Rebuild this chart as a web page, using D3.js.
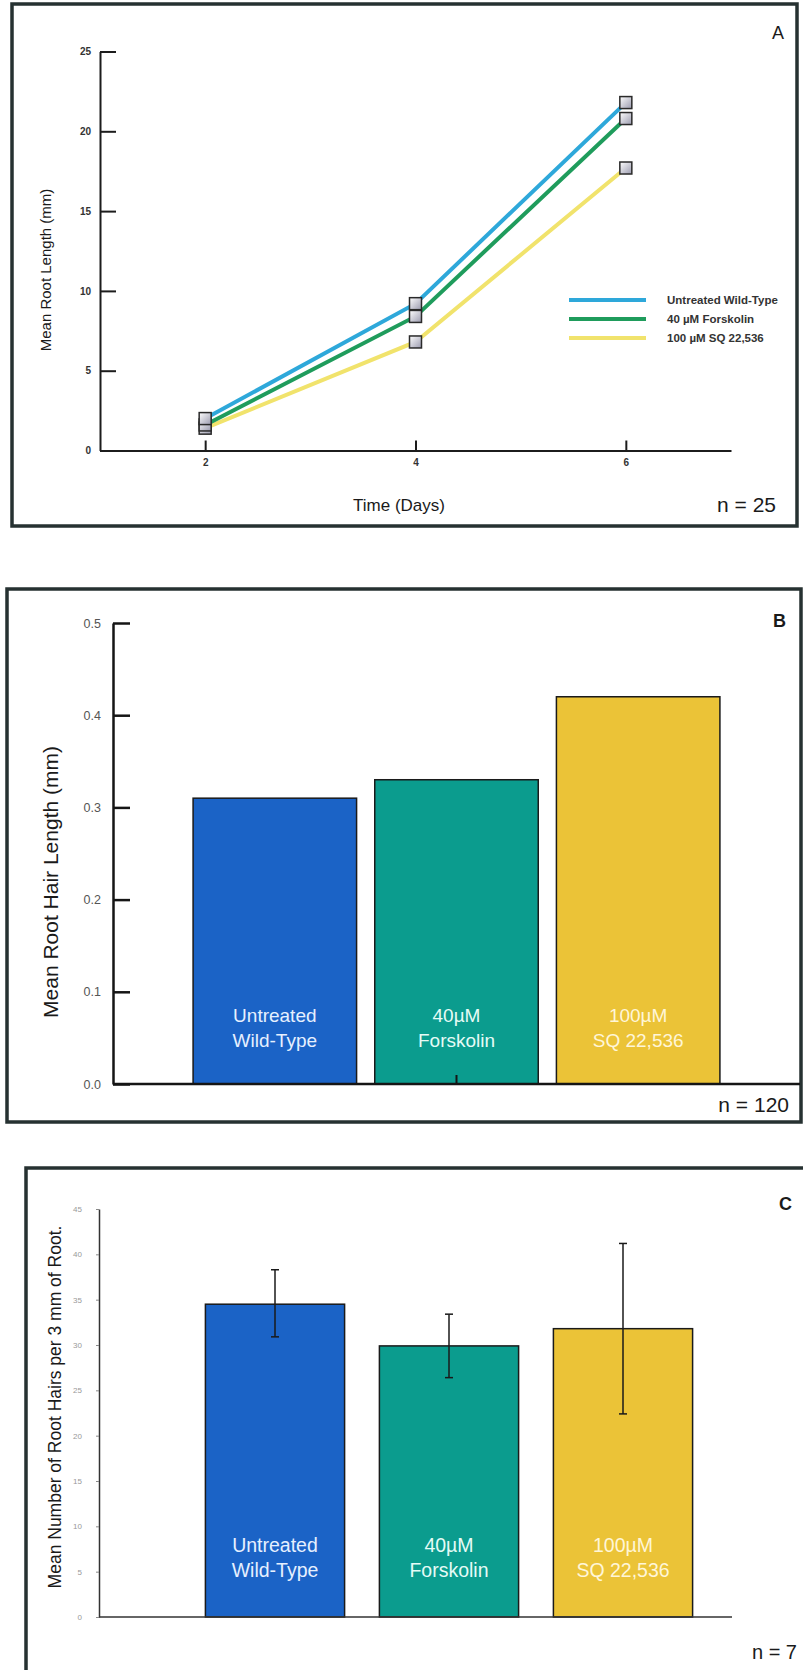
<!DOCTYPE html>
<html>
<head>
<meta charset="utf-8">
<script src="https://cdn.jsdelivr.net/npm/d3@7"></script>
<style>
  body { margin: 0; background: #fff; }
  svg { display: block; font-family: "Liberation Sans", Arial, sans-serif; }
</style>
</head>
<body>
<svg id="chart" width="803" height="1670"></svg>
<script>
// ---> Data
// panel A: root length over time
const days = [2, 4, 6];
const untreatedLength = [2.0, 9.2, 21.8];
const forskolinLength = [1.6, 8.4, 20.8];
const sqLength = [1.4, 6.8, 17.7];
const seriesNames = ["Untreated Wild-Type", "40 µM Forskolin", "100 µM SQ 22,536"];
const lengthTicks = [0, 5, 10, 15, 20, 25];

// panel B + C: the three treatments
const treatments = ["Untreated Wild-Type", "40µM Forskolin", "100µM SQ 22,536"];
const treatmentLines = [["Untreated", "Wild-Type"], ["40µM", "Forskolin"], ["100µM", "SQ 22,536"]];
const hairLength = [0.31, 0.33, 0.42];
const hairLengthTicks = [0, 0.1, 0.2, 0.3, 0.4, 0.5];

const hairCount = [34.5, 29.9, 31.8];
const hairCountLow = [30.9, 26.4, 22.4];
const hairCountHigh = [38.3, 33.4, 41.2];
const hairCountTicks = [0, 5, 10, 15, 20, 25, 30, 35, 40, 45];

// ---> Styles
const lineColors = ["#2ea8da", "#1f9c5c", "#f1e36c"];
const barColors = ["#1b63c6", "#0b9c8e", "#ebc337"];
const barTextColors = ["#e6f0ff", "#e6fbf6", "#fff6d8"];
const frameColor = "#263131";

const svg = d3.select("#chart");
svg.append("rect").attr("width", 803).attr("height", 1670).attr("fill", "#fff");

drawPanelA();
drawPanelB();
drawPanelC();

function frame(x, y, w, h) {
    svg.append("rect")
        .attr("x", x).attr("y", y)
        .attr("width", w).attr("height", h)
        .attr("fill", "none")
        .attr("stroke", frameColor)
        .attr("stroke-width", 3.5);
}

function cornerText(x, y, txt, size, weight) {
    svg.append("text")
        .attr("x", x).attr("y", y)
        .attr("text-anchor", "end")
        .attr("font-size", size)
        .attr("font-weight", weight || "normal")
        .attr("fill", "#1a1a1a")
        .text(txt);
}

// ---> Panel A
function drawPanelA() {
    frame(12, 4, 785, 522);

    const x = d3.scaleLinear().domain([1, 7]).range([100, 731]);
    const y = d3.scaleLinear().domain([0, 25]).range([450.5, 51.5]);

    const g = svg.append("g");

    const yAxis = g.append("g")
        .attr("transform", "translate(100,0)")
        .call(d3.axisLeft(y).tickValues(lengthTicks).tickSizeInner(-16).tickSizeOuter(0).tickPadding(9));
    const xAxis = g.append("g")
        .attr("transform", "translate(0," + y(0) + ")")
        .call(d3.axisBottom(x).tickValues(days).tickFormat(d3.format("d"))
            .tickSizeInner(-10).tickSizeOuter(0).tickPadding(8));

    [yAxis, xAxis].forEach(a => {
        a.selectAll("path, line").attr("stroke", "#1c1c1c").attr("stroke-width", 2);
        a.selectAll("text").attr("font-size", 10).attr("font-weight", "bold").attr("fill", "#333");
    });

    const series = [untreatedLength, forskolinLength, sqLength];
    const line = d3.line().x((d, i) => x(days[i])).y(d => y(d));

    // draw yellow first so blue sits on top
    [2, 1, 0].forEach(k => {
        g.append("path")
            .datum(series[k])
            .attr("d", line)
            .attr("fill", "none")
            .attr("stroke", lineColors[k])
            .attr("stroke-width", 4);
    });

    const grad = svg.append("defs").append("linearGradient")
        .attr("id", "markerFill").attr("x1", 0).attr("y1", 0).attr("x2", 1).attr("y2", 1);
    grad.append("stop").attr("offset", "0%").attr("stop-color", "#ffffff");
    grad.append("stop").attr("offset", "100%").attr("stop-color", "#9a9aae");

    [2, 1, 0].forEach(k => {
        g.selectAll(null)
            .data(series[k])
            .enter()
            .append("rect")
            .attr("x", (d, i) => x(days[i]) - 6)
            .attr("y", d => y(d) - 6)
            .attr("width", 12)
            .attr("height", 12)
            .attr("fill", "url(#markerFill)")
            .attr("stroke", "#2a2a2a")
            .attr("stroke-width", 1.5);
    });

    // legend
    const legend = g.append("g");
    seriesNames.forEach((name, k) => {
        const ly = 300 + k * 19;
        legend.append("line")
            .attr("x1", 569).attr("x2", 646)
            .attr("y1", ly).attr("y2", ly)
            .attr("stroke", lineColors[k])
            .attr("stroke-width", 4);
        legend.append("text")
            .attr("x", 667).attr("y", ly)
            .attr("dy", "0.35em")
            .attr("font-size", 11.5)
            .attr("font-weight", "bold")
            .attr("fill", "#333")
            .text(name);
    });

    g.append("text")
        .attr("transform", "translate(46,270) rotate(-90)")
        .attr("text-anchor", "middle")
        .attr("dy", "0.35em")
        .attr("font-size", 15)
        .attr("fill", "#1a1a1a")
        .text("Mean Root Length (mm)");

    g.append("text")
        .attr("x", 399).attr("y", 511)
        .attr("text-anchor", "middle")
        .attr("font-size", 17)
        .attr("fill", "#1a1a1a")
        .text("Time (Days)");

    cornerText(784, 39, "A", 18);
    cornerText(776, 512, "n = 25", 21);
}

// ---> Panel B
function drawPanelB() {
    frame(7, 589, 794, 533);

    const x = d3.scaleBand().domain(treatments).range([184, 729]).paddingInner(0.1).paddingOuter(0.05);
    const y = d3.scaleLinear().domain([0, 0.5]).range([1084, 623]);

    const g = svg.append("g");

    g.selectAll(null)
        .data(hairLength)
        .enter()
        .append("rect")
        .attr("x", (d, i) => x(treatments[i]))
        .attr("y", d => y(d))
        .attr("width", x.bandwidth())
        .attr("height", d => y(0) - y(d))
        .attr("fill", (d, i) => barColors[i])
        .attr("stroke", "#1a1a1a")
        .attr("stroke-width", 1.5);

    barLabels(g, x, 1015, 19);

    const yAxis = g.append("g")
        .attr("transform", "translate(113,0)")
        .call(d3.axisLeft(y).tickValues(hairLengthTicks).tickFormat(d3.format(".1f"))
            .tickSizeInner(-17).tickSizeOuter(0).tickPadding(12));
    yAxis.selectAll("path, line").attr("stroke", "#151515").attr("stroke-width", 2.5);
    yAxis.selectAll("text").attr("font-size", 12.5).attr("fill", "#555");

    // baseline runs past the bars to the panel edge
    g.append("line")
        .attr("x1", 113).attr("x2", 800)
        .attr("y1", y(0)).attr("y2", y(0))
        .attr("stroke", "#151515").attr("stroke-width", 2.5);

    const xAxis = g.append("g")
        .attr("transform", "translate(0," + y(0) + ")")
        .call(d3.axisBottom(x).tickValues([treatments[1]]).tickFormat("").tickSizeInner(-9).tickSizeOuter(0));
    xAxis.select(".domain").remove();
    xAxis.selectAll("line").attr("stroke", "#151515").attr("stroke-width", 2);

    g.append("text")
        .attr("transform", "translate(51,882) rotate(-90)")
        .attr("text-anchor", "middle")
        .attr("dy", "0.35em")
        .attr("font-size", 21)
        .attr("fill", "#1a1a1a")
        .text("Mean Root Hair Length (mm)");

    cornerText(786, 627, "B", 18, "bold");
    cornerText(789, 1112, "n = 120", 21);
}

// ---> Panel C
function drawPanelC() {
    frame(26, 1168, 800, 560);

    const x = d3.scaleBand().domain(treatments).range([188, 710]).paddingInner(0.2).paddingOuter(0.1);
    const y = d3.scaleLinear().domain([0, 45]).range([1617, 1209]);

    const g = svg.append("g");

    g.selectAll(null)
        .data(hairCount)
        .enter()
        .append("rect")
        .attr("x", (d, i) => x(treatments[i]))
        .attr("y", d => y(d))
        .attr("width", x.bandwidth())
        .attr("height", d => y(0) - y(d))
        .attr("fill", (d, i) => barColors[i])
        .attr("stroke", "#1a1a1a")
        .attr("stroke-width", 1.5);

    barLabels(g, x, 1545, 19.5);

    // error bars
    const err = g.selectAll(null)
        .data(treatments)
        .enter()
        .append("g")
        .attr("stroke", "#1a1a1a")
        .attr("stroke-width", 1.5);
    err.append("line")
        .attr("x1", d => x(d) + x.bandwidth() / 2)
        .attr("x2", d => x(d) + x.bandwidth() / 2)
        .attr("y1", (d, i) => y(hairCountLow[i]))
        .attr("y2", (d, i) => y(hairCountHigh[i]));
    [hairCountLow, hairCountHigh].forEach(arr => {
        err.append("line")
            .attr("x1", d => x(d) + x.bandwidth() / 2 - 4)
            .attr("x2", d => x(d) + x.bandwidth() / 2 + 4)
            .attr("y1", (d, i) => y(arr[i]))
            .attr("y2", (d, i) => y(arr[i]));
    });

    const yAxis = g.append("g")
        .attr("transform", "translate(99,0)")
        .call(d3.axisLeft(y).tickValues(hairCountTicks).tickSizeInner(3).tickSizeOuter(0).tickPadding(14));
    yAxis.select(".domain").attr("stroke", "#333").attr("stroke-width", 1.5);
    yAxis.selectAll("line").attr("stroke", "#888");
    yAxis.selectAll("text").attr("font-size", 8).attr("fill", "#999");

    g.append("line")
        .attr("x1", 99).attr("x2", 732)
        .attr("y1", y(0)).attr("y2", y(0))
        .attr("stroke", "#333").attr("stroke-width", 1.5);

    g.append("text")
        .attr("transform", "translate(55,1407) rotate(-90)")
        .attr("text-anchor", "middle")
        .attr("dy", "0.35em")
        .attr("font-size", 17.5)
        .attr("fill", "#1a1a1a")
        .text("Mean Number of Root Hairs per 3 mm of Root.");

    cornerText(792, 1210, "C", 18, "bold");
    cornerText(797, 1659, "n = 7", 20);
}

function barLabels(g, x, top, size) {
    treatmentLines.forEach((lines, i) => {
        const t = g.append("text")
            .attr("text-anchor", "middle")
            .attr("font-size", size)
            .attr("fill", barTextColors[i]);
        lines.forEach((s, j) => {
            t.append("tspan")
                .attr("x", x(treatments[i]) + x.bandwidth() / 2)
                .attr("y", top + j * 25)
                .attr("dy", "0.35em")
                .text(s);
        });
    });
}
</script>
</body>
</html>
